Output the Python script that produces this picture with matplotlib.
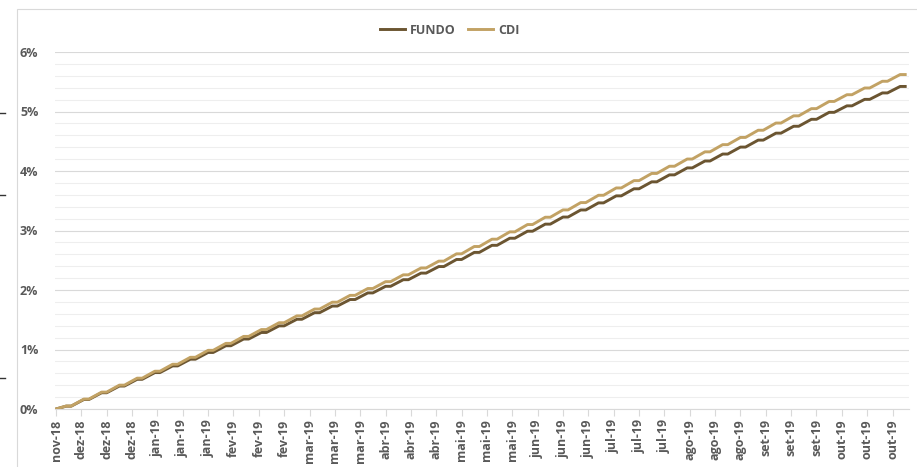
import matplotlib
matplotlib.use("Agg")
import matplotlib.pyplot as plt
import pandas as pd
import numpy as np

# ---------------- data ----------------
start_date = pd.Timestamp("2018-11-26")
week_end_dates = pd.date_range("2018-11-30", "2019-10-25", freq="7D")  # weekly closes (Fridays)

cdi = [0.050, 0.167, 0.284, 0.401, 0.518, 0.635, 0.752, 0.869, 0.986, 1.103,
       1.220, 1.335, 1.450, 1.565, 1.680, 1.795, 1.910, 2.025, 2.140, 2.255,
       2.370, 2.485, 2.608, 2.731, 2.854, 2.977, 3.100, 3.223, 3.346, 3.469,
       3.592, 3.715, 3.838, 3.959, 4.080, 4.201, 4.322, 4.443, 4.564, 4.685,
       4.806, 4.927, 5.048, 5.169, 5.282, 5.395, 5.508, 5.621]

fundo = [0.048, 0.160, 0.273, 0.386, 0.499, 0.612, 0.724, 0.837, 0.950, 1.063,
         1.176, 1.286, 1.397, 1.508, 1.619, 1.730, 1.840, 1.951, 2.062, 2.173,
         2.284, 2.394, 2.513, 2.632, 2.751, 2.870, 2.988, 3.107, 3.226, 3.345,
         3.464, 3.582, 3.701, 3.818, 3.935, 4.052, 4.168, 4.285, 4.402, 4.519,
         4.636, 4.752, 4.869, 4.986, 5.095, 5.204, 5.312, 5.421]

tick_labels = ["nov-18", "dez-18", "dez-18", "dez-18", "jan-19", "jan-19", "jan-19",
               "fev-19", "fev-19", "fev-19", "mar-19", "mar-19", "mar-19",
               "abr-19", "abr-19", "abr-19", "mai-19", "mai-19", "mai-19",
               "jun-19", "jun-19", "jun-19", "jul-19", "jul-19", "jul-19",
               "ago-19", "ago-19", "ago-19", "set-19", "set-19", "set-19",
               "out-19", "out-19", "out-19"]
tick_dates = pd.date_range(start_date, periods=len(tick_labels), freq="10D")

y_ticks = [0, 1, 2, 3, 4, 5, 6]
y_tick_labels = ["0%", "1%", "2%", "3%", "4%", "5%", "6%"]

# ---------------- style ----------------
FUNDO_C = "#6B5531"
CDI_C = "#C2A264"
TXT_C = "#595959"
plt.rcParams["font.family"] = ["Open Sans", "DejaVu Sans"]

W, H = 917, 467
fig = plt.figure(figsize=(W / 100, H / 100), dpi=100)

# chart-area border
fig.add_artist(plt.Rectangle((17 / W, -0.1), 1.2, 1 - 9 / H + 0.1,
                             transform=fig.transFigure, fill=False,
                             edgecolor="#d9d9d9", linewidth=0.8))
# small marks at the far left edge
for yy in (113, 195, 378):
    fig.add_artist(plt.Line2D([0, 5 / W], [1 - yy / H, 1 - yy / H],
                              transform=fig.transFigure, color="#333333", lw=1.0))

ax = fig.add_axes([55 / W, 1 - 409 / H, (909 - 55) / W, (409 - 52) / H])


def weekly_path(values):
    xs = [start_date]
    ys = [0.0]
    for d, v in zip(week_end_dates, values):
        xs += [d, d + pd.Timedelta(days=2)]
        ys += [v, v]
    return xs, ys


xf, yf = weekly_path(fundo)
xc, yc = weekly_path(cdi)
ax.plot(xf, yf, color=FUNDO_C, lw=2.1, label="FUNDO", solid_joinstyle="round", zorder=3)
ax.plot(xc, yc, color=CDI_C, lw=2.1, label="CDI", solid_joinstyle="round", zorder=3)

ax.set_xlim(start_date - pd.Timedelta(days=0.4), start_date + pd.Timedelta(days=336.5))
ax.set_ylim(0, 6)

ax.set_yticks(y_ticks)
ax.set_yticklabels(y_tick_labels, fontweight="bold", fontsize=9, color=TXT_C)
ax.set_yticks(np.arange(0, 6.01, 0.2), minor=True)
ax.tick_params(axis="y", which="both", length=0, pad=12)

ax.set_xticks(tick_dates)
ax.set_xticklabels(tick_labels, rotation=90, fontweight="bold", fontsize=9, color=TXT_C)
ax.tick_params(axis="x", length=5, width=0.8, color="#d9d9d9", pad=2.5)

ax.grid(axis="y", which="major", color="#d9d9d9", lw=0.8, zorder=0)
ax.grid(axis="y", which="minor", color="#eeeeee", lw=0.8, zorder=0)
ax.set_axisbelow(True)

for s in ("top", "right", "left"):
    ax.spines[s].set_visible(False)
ax.spines["bottom"].set_color("#d9d9d9")
ax.spines["bottom"].set_linewidth(0.8)

leg = fig.legend(loc="center", bbox_to_anchor=(450 / W, 1 - 30 / H), ncol=2,
                 frameon=False, handlelength=2.0, handletextpad=0.4, columnspacing=1.0,
                 prop={"weight": "bold", "size": 9})
for t in leg.get_texts():
    t.set_color(TXT_C)

fig.savefig("out.png", dpi=100)
